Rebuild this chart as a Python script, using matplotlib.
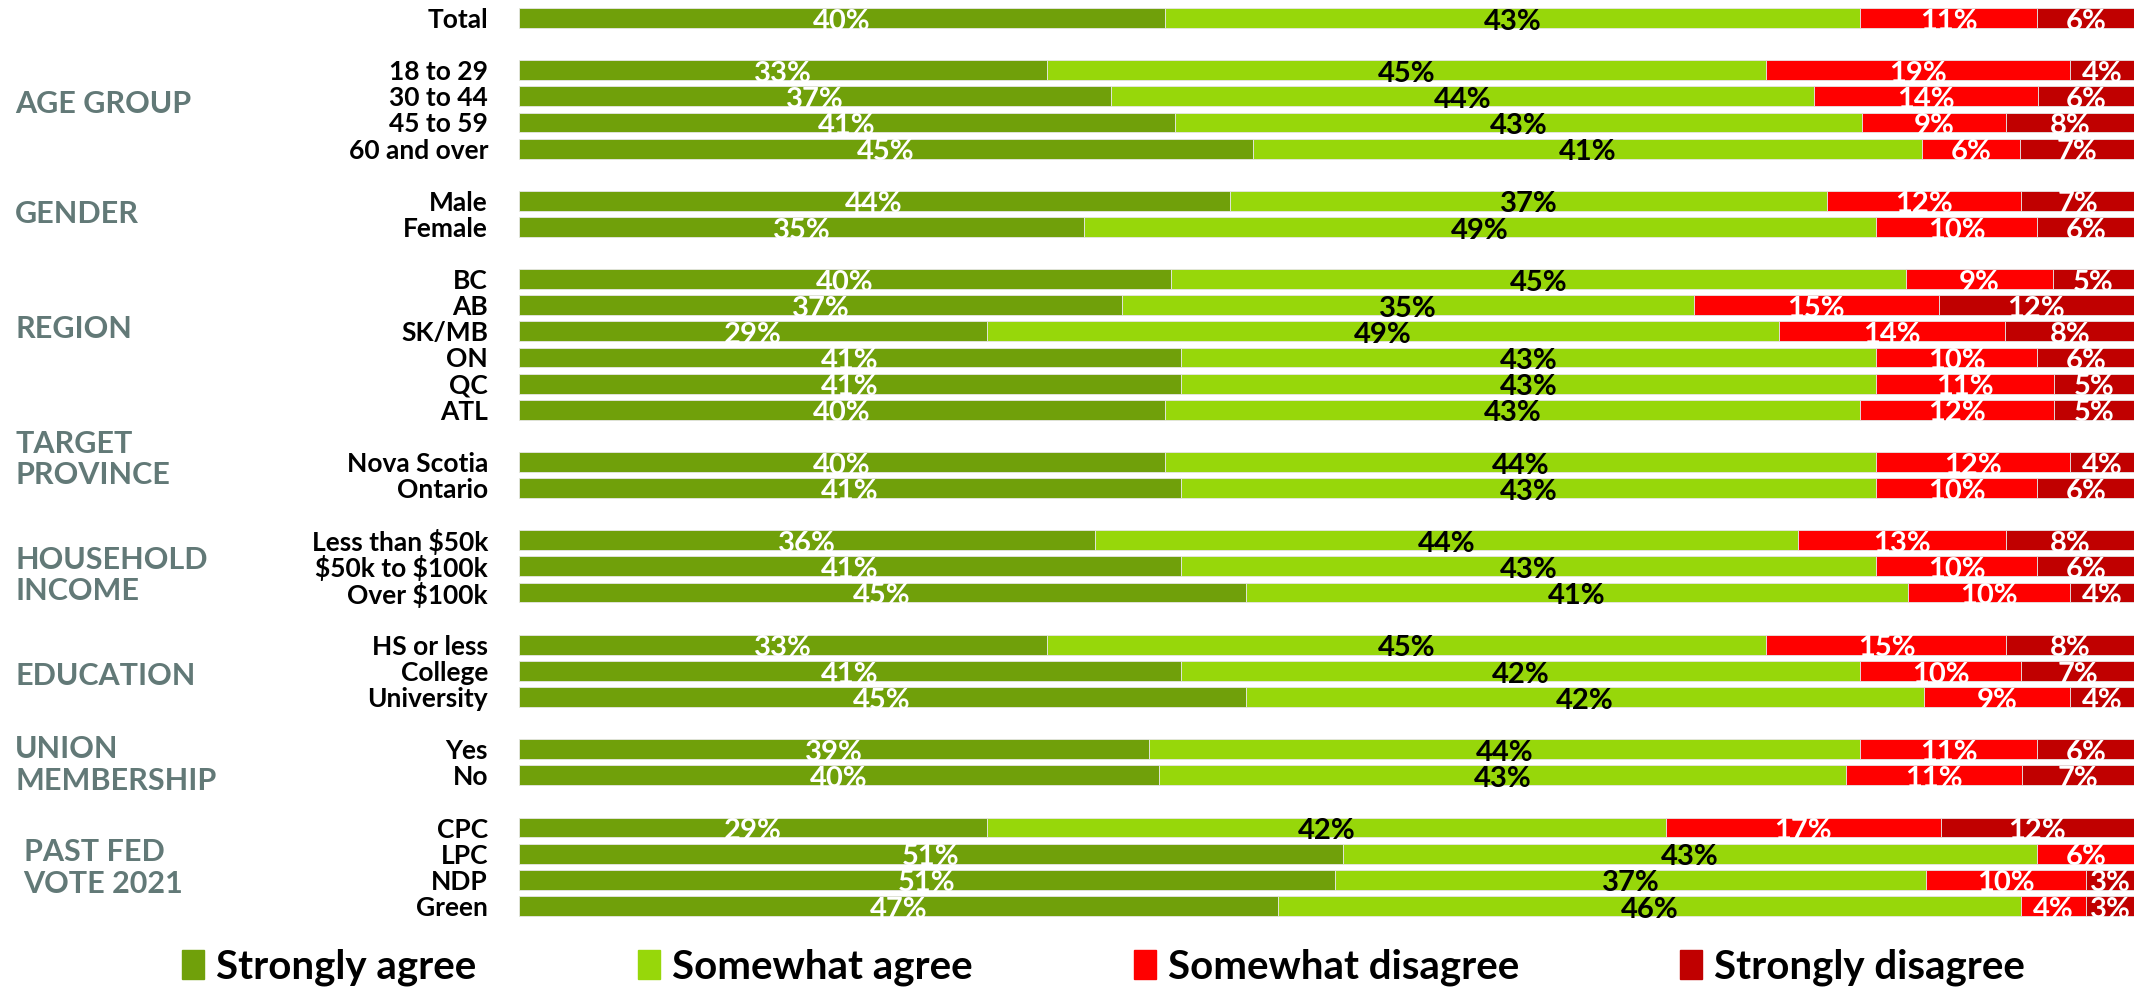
import matplotlib
matplotlib.use("Agg")
import matplotlib.pyplot as plt
import matplotlib.patches as mpatches
import matplotlib.transforms as mtransforms
import numpy as np

plt.rcParams['font.family'] = ['Lato', 'DejaVu Sans']
plt.rcParams['font.weight'] = 'bold'

# Response categories and colours
responses = ["Strongly agree", "Somewhat agree", "Somewhat disagree", "Strongly disagree"]
colors = ["#70a00a", "#97d70a", "#ff0000", "#c00000"]
label_colors = ["white", "black", "white", "white"]

# Row labels, grouped by demographic
groups = [
    ("", ["Total"]),
    ("AGE GROUP", ["18 to 29", "30 to 44", "45 to 59", "60 and over"]),
    ("GENDER", ["Male", "Female"]),
    ("REGION", ["BC", "AB", "SK/MB", "ON", "QC", "ATL"]),
    ("TARGET\nPROVINCE", ["Nova Scotia", "Ontario"]),
    ("HOUSEHOLD\nINCOME", ["Less than \\$50k", "\\$50k to \\$100k", "Over \\$100k"]),
    ("EDUCATION", ["HS or less", "College", "University"]),
    ("UNION\nMEMBERSHIP", ["Yes", "No"]),
    ("PAST FED\nVOTE 2021", ["CPC", "LPC", "NDP", "Green"]),
]

# Percentages per row: strongly agree / somewhat agree / somewhat disagree / strongly disagree
strongly_agree = [40, 33, 37, 41, 45, 44, 35, 40, 37, 29, 41, 41, 40, 40, 41,
                  36, 41, 45, 33, 41, 45, 39, 40, 29, 51, 51, 47]
somewhat_agree = [43, 45, 44, 43, 41, 37, 49, 45, 35, 49, 43, 43, 43, 44, 43,
                  44, 43, 41, 45, 42, 42, 44, 43, 42, 43, 37, 46]
somewhat_disagree = [11, 19, 14, 9, 6, 12, 10, 9, 15, 14, 10, 11, 12, 12, 10,
                     13, 10, 10, 15, 10, 9, 11, 11, 17, 6, 10, 4]
strongly_disagree = [6, 4, 6, 8, 7, 7, 6, 5, 12, 8, 6, 5, 5, 4, 6,
                     8, 6, 4, 8, 7, 4, 6, 7, 12, 0, 3, 3]

# Vertical position (in row units) of each group heading
group_label_y = [None, 3.3, 7.5, 11.9, 16.9, 21.35, 25.2, 28.6, 32.55]

values = np.array([strongly_agree, somewhat_agree, somewhat_disagree, strongly_disagree], dtype=float).T
shares = values / values.sum(axis=1, keepdims=True) * 100

# y positions with a blank row between groups
row_labels, ypos = [], []
pos = 0
for _, rows in groups:
    for r in rows:
        row_labels.append(r)
        ypos.append(pos)
        pos += 1
    pos += 1
ypos = np.array(ypos)

fig = plt.figure(figsize=(21.43, 9.91), dpi=100)
ax = fig.add_axes([0.242, 0.0727, 0.754, 0.9223])

left = np.zeros(len(ypos))
for k in range(4):
    ax.barh(ypos, shares[:, k], left=left, height=0.76, color=colors[k],
            edgecolor="#e6e6e6", linewidth=0.6)
    for i in range(len(ypos)):
        if values[i, k] > 0:
            ax.text(left[i] + shares[i, k] / 2, ypos[i] + 0.14, f"{values[i, k]:.0f}%",
                    ha="center", va="center", fontsize=21, fontweight="bold",
                    color=label_colors[k])
    left += shares[:, k]

ax.set_xlim(0, 100)
ax.set_ylim(ypos.max() + 0.5, -0.5)
ax.set_yticks(ypos)
ax.set_yticklabels(row_labels, fontsize=19, fontweight="bold")
ax.tick_params(axis="y", length=0, pad=22)
ax.set_xticks([])
for s in ax.spines.values():
    s.set_visible(False)

# Group headings on the far left
head_trans = mtransforms.blended_transform_factory(fig.transFigure, ax.transData)
for (name, _), gy in zip(groups, group_label_y):
    if gy is None:
        continue
    x = 0.011 if name.startswith("PAST") else 0.007
    ax.text(x, gy, name, transform=head_trans, ha="left", va="center",
            fontsize=22, fontweight="bold", color="#627977", linespacing=1.15)

handles = [mpatches.Patch(color=c, label=l) for c, l in zip(colors, responses)]
fig.legend(handles=handles, loc="center", bbox_to_anchor=(0.515, 0.024), ncol=4,
           frameon=False, prop={"weight": "bold", "size": 29},
           handlelength=0.55, handleheight=0.75, handletextpad=0.3, columnspacing=4.0)

fig.savefig("out.png", dpi=100)
